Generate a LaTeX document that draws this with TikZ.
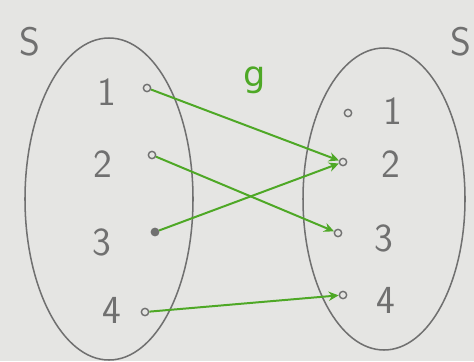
\documentclass[tikz,border=0pt]{standalone}
\usepackage{fontspec}
\newfontfamily\markfont{DejaVu Sans}
\usetikzlibrary{arrows.meta}
\definecolor{pencil}{RGB}{112,112,112}
\definecolor{marker}{RGB}{78,168,38}
\definecolor{paper}{RGB}{229,229,227}
\tikzset{
  >={Stealth[length=3mm,width=2.8mm]},
  pt/.style={circle,draw=pencil,line width=1.2pt,inner sep=0pt,minimum size=2.2mm},
  num/.style={text=pencil,font=\fontsize{34}{38}\selectfont\sffamily},
  set/.style={draw=pencil,line width=1.3pt},
  map/.style={->,line width=1.7pt,draw=marker},
}

\begin{document}
\begin{tikzpicture}[x=0.3mm,y=-0.3mm]
    \fill[paper] (0,0) rectangle (474,361);
    \clip (0,0) rectangle (474,361);
    % the two sets
    \draw[set] (109,199) ellipse [x radius=84,y radius=161];
    \draw[set] (384,199) ellipse [x radius=81,y radius=151];
    \node[num] (sl) at (30,42) {S};
    \node[num] (sr) at (461,42) {S};
    % domain
    \node[num] (l1) at (107,92) {1};
    \node[num] (l2) at (103,164) {2};
    \node[num] (l3) at (102,242) {3};
    \node[num] (l4) at (112,310) {4};
    \node[pt] (a1) at (147,88) {};
    \node[pt] (a2) at (152,155) {};
    \node[pt,fill=pencil] (a3) at (155,232) {};
    \node[pt] (a4) at (145,312) {};
    % codomain
    \node[num] (r1) at (393,111) {1};
    \node[num] (r2) at (391,164) {2};
    \node[num] (r3) at (384,238) {3};
    \node[num] (r4) at (386,300) {4};
    \node[pt] (b1) at (348,113) {};
    \node[pt] (b2) at (343,162) {};
    \node[pt] (b3) at (338,233) {};
    \node[pt] (b4) at (343,295) {};
    % the map
    \node[text=marker,font=\fontsize{30}{34}\selectfont\markfont] (g) at (255,80) {g};
    \draw[map] (a1) -- (b2);
    \draw[map] (a2) -- (b3);
    \draw[map] (a3) -- (b2);
    \draw[map] (a4) -- (b4);
  \end{tikzpicture}
\end{document}
